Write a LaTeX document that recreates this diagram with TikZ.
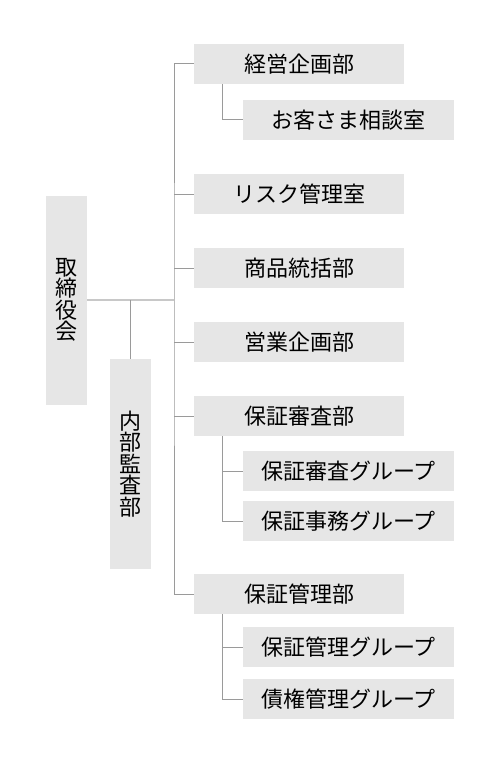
\documentclass[tikz,border=0pt]{standalone}
\usepackage{fontspec}
\setmainfont{Noto Sans CJK JP}
\definecolor{boxgray}{HTML}{E6E6E6}
\definecolor{linegray}{HTML}{9A9A9A}
\definecolor{trunkgray}{HTML}{C8C8C8}
\tikzset{
	dept/.style={fill=boxgray,minimum width=210,minimum height=40,inner sep=0,font=\fontsize{22}{22}\selectfont},
	group/.style={dept,minimum width=211},
	vbox/.style={dept,minimum width=41,align=center,font=\fontsize{22}{21.5}\selectfont},
	conn/.style={draw=linegray,line width=1pt}
}
\begin{document}
\begin{tikzpicture}[x=1pt,y=-1pt]
				\useasboundingbox (0,0) rectangle (500,765);
				\node[vbox,minimum height=209] (board) at (66.5,300){取\\締\\役\\会};
				\node[vbox,minimum height=210] (audit) at (130,464){内\\部\\監\\査\\部};
				\node[dept] (keiei) at (299,64){経営企画部};
				\node[group] (kyaku) at (348.5,120){お客さま相談室};
				\node[dept] (risk) at (299,194){リスク管理室};
				\node[dept] (shohin) at (299,268){商品統括部};
				\node[dept] (eigyo) at (299,342){営業企画部};
				\node[dept] (shinsa) at (299,416){保証審査部};
				\node[group] (shinsag) at (348.5,471){保証審査グループ};
				\node[group] (jimug) at (348.5,521){保証事務グループ};
				\node[dept] (kanri) at (299,594){保証管理部};
				\node[group] (kanrig) at (348.5,647){保証管理グループ};
				\node[group] (saikeng) at (348.5,699){債権管理グループ};
				\coordinate (trunk) at (174,300);
				\draw[trunkgray,line width=2pt] (board.east)--(trunk);
				\draw[conn] (audit.north|-trunk)--(audit.north);
				\draw[conn] (keiei.west)-|(trunk)|-(kanri.west);
				\foreach \n in {risk,shohin,eigyo,shinsa} \draw[conn] (trunk|-\n.west)--(\n.west);
				\draw[conn] ([xshift=29]keiei.south west)|-(kyaku.west);
				\draw[conn] ([xshift=29]shinsa.south west)|-(jimug.west);
				\draw[conn] ([xshift=29]shinsa.south west|-shinsag.west)--(shinsag.west);
				\draw[conn] ([xshift=29]kanri.south west)|-(saikeng.west);
				\draw[conn] ([xshift=29]kanri.south west|-kanrig.west)--(kanrig.west);
			\end{tikzpicture}
\end{document}
